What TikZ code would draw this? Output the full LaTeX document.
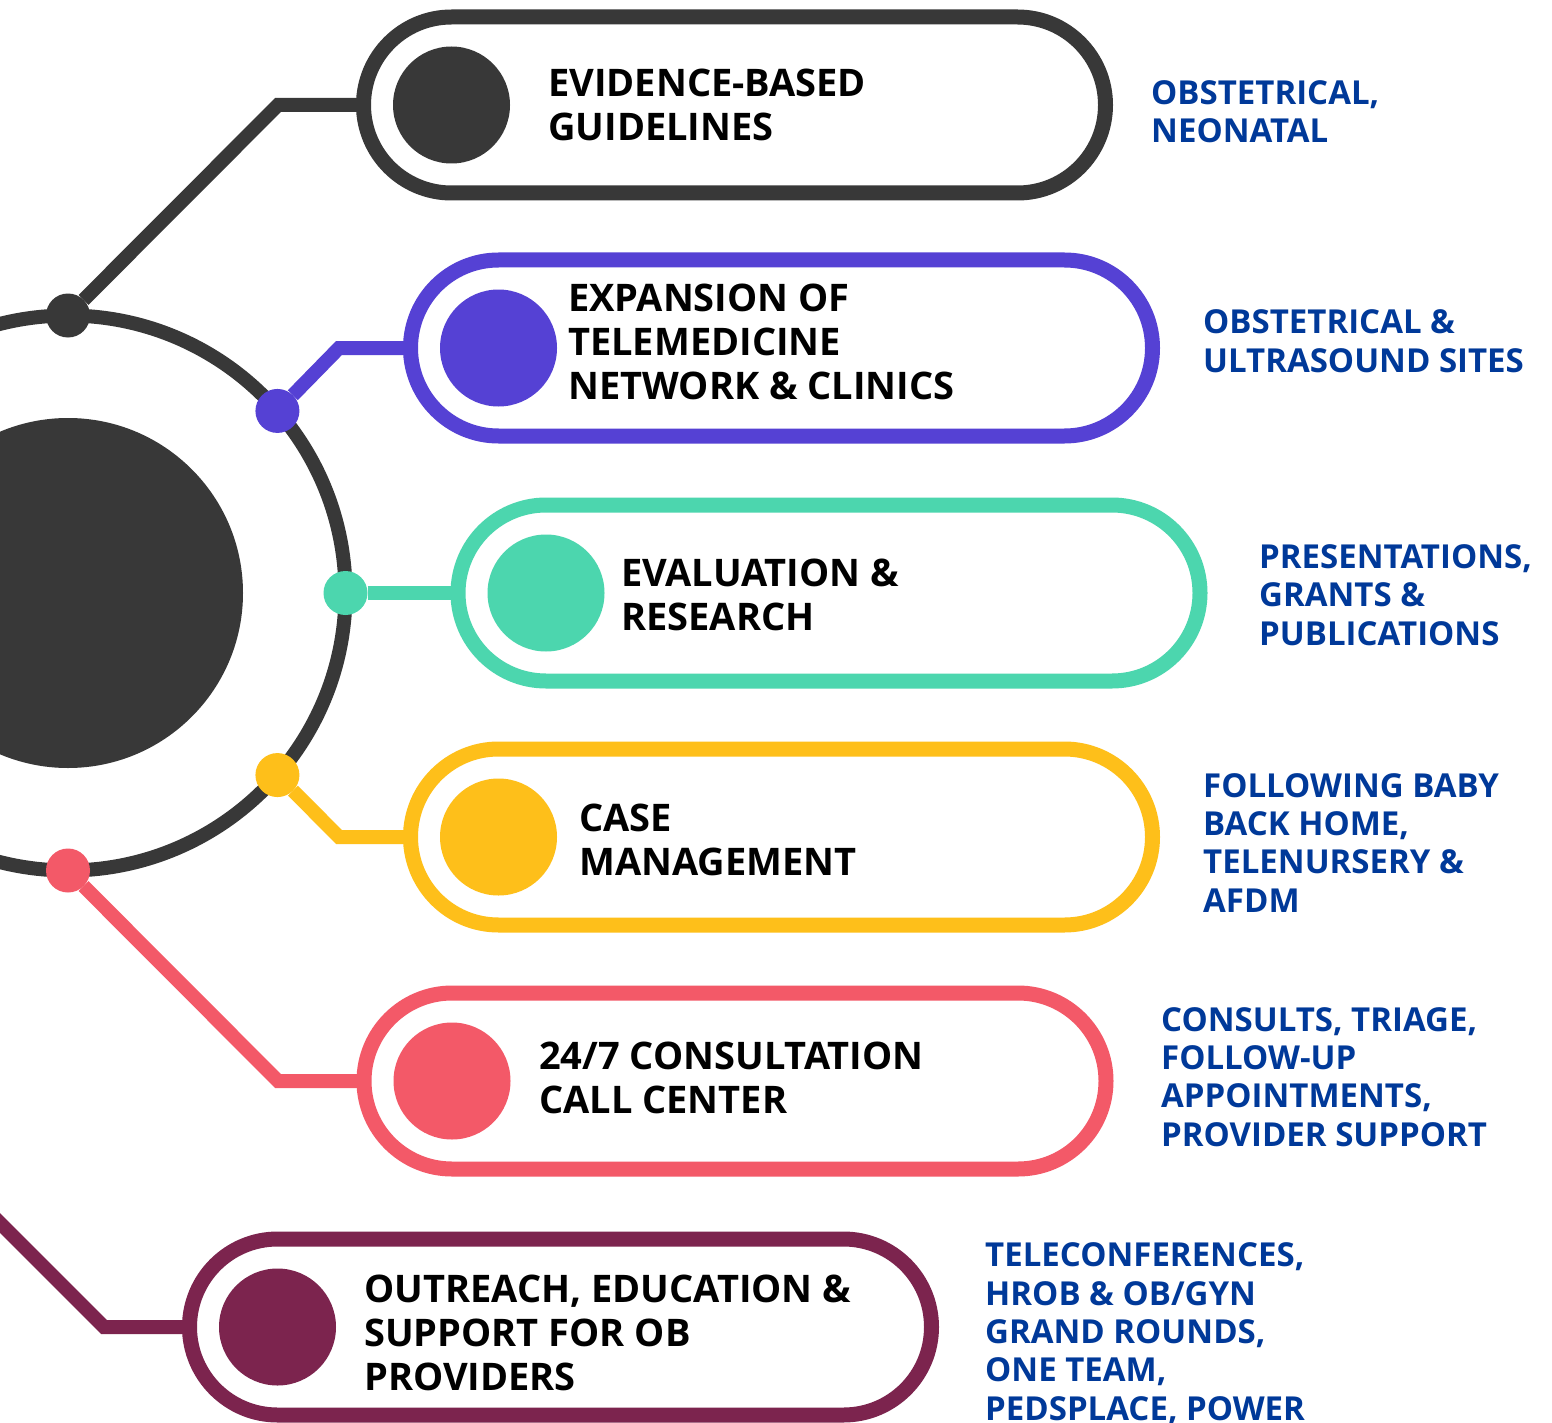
\documentclass[tikz,border=0pt]{standalone}
\usepackage{fontspec}
\usetikzlibrary{shapes.misc}
\newfontfamily\blkfont{Open Sans}
\newfontfamily\bluefont{Open Sans}
\definecolor{cdark}{RGB}{56,56,56}
\definecolor{cpurple}{RGB}{85,65,212}
\definecolor{cteal}{RGB}{76,214,174}
\definecolor{cyellow}{RGB}{254,191,26}
\definecolor{cred}{RGB}{243,89,104}
\definecolor{cmaroon}{RGB}{124,36,78}
\definecolor{obblue}{RGB}{0,57,153}
\begin{document}
\begin{tikzpicture}[x=1pt,y=-1pt,
  pill/.style={draw=#1, fill=white, rounded rectangle, line width=15pt, minimum height=176pt, minimum width=742pt, inner sep=0pt, outer sep=0pt},
  disc/.style={circle, fill=#1, inner sep=0pt, minimum size=117pt, outer sep=0pt},
  dotnode/.style={circle, fill=#1, inner sep=0pt, minimum size=44pt, outer sep=0pt},
  conn/.style={draw=#1, line width=14pt},
  lbl/.style={anchor=base west, align=left, inner sep=0pt, font=\blkfont\bfseries\fontsize{38}{44}\selectfont},
  note/.style={anchor=base west, align=left, inner sep=0pt, text=obblue, font=\bluefont\bfseries\fontsize{33}{38.3}\selectfont}]
\useasboundingbox (0,0) rectangle (1552,1423);
\fill[white] (0,0) rectangle (1552,1423);
% hub
\node (ring) [circle, draw=cdark, line width=14pt, minimum size=555pt, inner sep=0pt, outer sep=0pt] at (68,593) {};
\node (hub) [circle, fill=cdark, minimum size=350pt, inner sep=0pt] at (68,593) {};
% dots on ring
\node (d1) [dotnode=cdark] at (ring.90) {};
\node (d2) [dotnode=cpurple] at (ring.41.4) {};
\node (d3) [dotnode=cteal] at (ring.0) {};
\node (d4) [dotnode=cyellow] at (ring.-41.4) {};
\node (d5) [dotnode=cred] at (ring.-90) {};
\coordinate (d6) at (-30,1193);
% pills
\node (p1) [pill=cdark] at (734.5,105) {};
\node (p2) [pill=cpurple] at (781.5,348) {};
\node (p3) [pill=cteal] at (829,593) {};
\node (p4) [pill=cyellow] at (781.5,837) {};
\node (p5) [pill=cred] at (735,1081) {};
\node (p6) [pill=cmaroon] at (560.5,1327) {};
% bends
\coordinate (b1) at (278,105);
\coordinate (b2) at (339,348);
\coordinate (b4) at (339,837);
\coordinate (b5) at (278,1081);
\coordinate (b6) at (104,1327);
% connectors
\draw[conn=cdark] (d1) -- (b1) -- (p1.west);
\draw[conn=cpurple] (d2) -- (b2) -- (p2.west);
\draw[conn=cteal] (d3) -- (p3.west);
\draw[conn=cyellow] (d4) -- (b4) -- (p4.west);
\draw[conn=cred] (d5) -- (b5) -- (p5.west);
\draw[conn=cmaroon] (d6) -- (b6) -- (p6.west);
% discs
\node (c1) [disc=cdark] at ([xshift=88pt]p1.west) {};
\node (c2) [disc=cpurple] at ([xshift=88pt]p2.west) {};
\node (c3) [disc=cteal] at ([xshift=88pt]p3.west) {};
\node (c4) [disc=cyellow] at ([xshift=88pt]p4.west) {};
\node (c5) [disc=cred] at ([xshift=88pt]p5.west) {};
\node (c6) [disc=cmaroon] at ([xshift=88pt]p6.west) {};
% labels (anchor = baseline of last line)
\node (t1) [lbl] at (548,141) {EVIDENCE-BASED\\GUIDELINES};
\node (t2) [lbl] at (568,399) {EXPANSION OF\\TELEMEDICINE\\NETWORK \& CLINICS};
\node (t3) [lbl] at (621,630) {EVALUATION \&\\RESEARCH};
\node (t4) [lbl] at (579,875) {CASE\\MANAGEMENT};
\node (t5) [lbl] at (539,1113) {24/7 CONSULTATION\\CALL CENTER};
\node (t6) [lbl] at (364,1390) {OUTREACH, EDUCATION \&\\SUPPORT FOR OB\\PROVIDERS};
% notes
\node (n1) [note] at (1151,143) {OBSTETRICAL,\\NEONATAL};
\node (n2) [note] at (1203,372) {OBSTETRICAL \&\\ULTRASOUND SITES};
\node (n3) [note] at (1259,645) {PRESENTATIONS,\\GRANTS \&\\PUBLICATIONS};
\node (n4) [note] at (1203,912) {FOLLOWING BABY\\BACK HOME,\\TELENURSERY \&\\AFDM};
\node (n5) [note] at (1161,1146) {CONSULTS, TRIAGE,\\FOLLOW-UP\\APPOINTMENTS,\\PROVIDER SUPPORT};
\node (n6) [note] at (985,1420) {TELECONFERENCES,\\HROB \& OB/GYN\\GRAND ROUNDS,\\ONE TEAM,\\PEDSPLACE, POWER};
\end{tikzpicture}
\end{document}
